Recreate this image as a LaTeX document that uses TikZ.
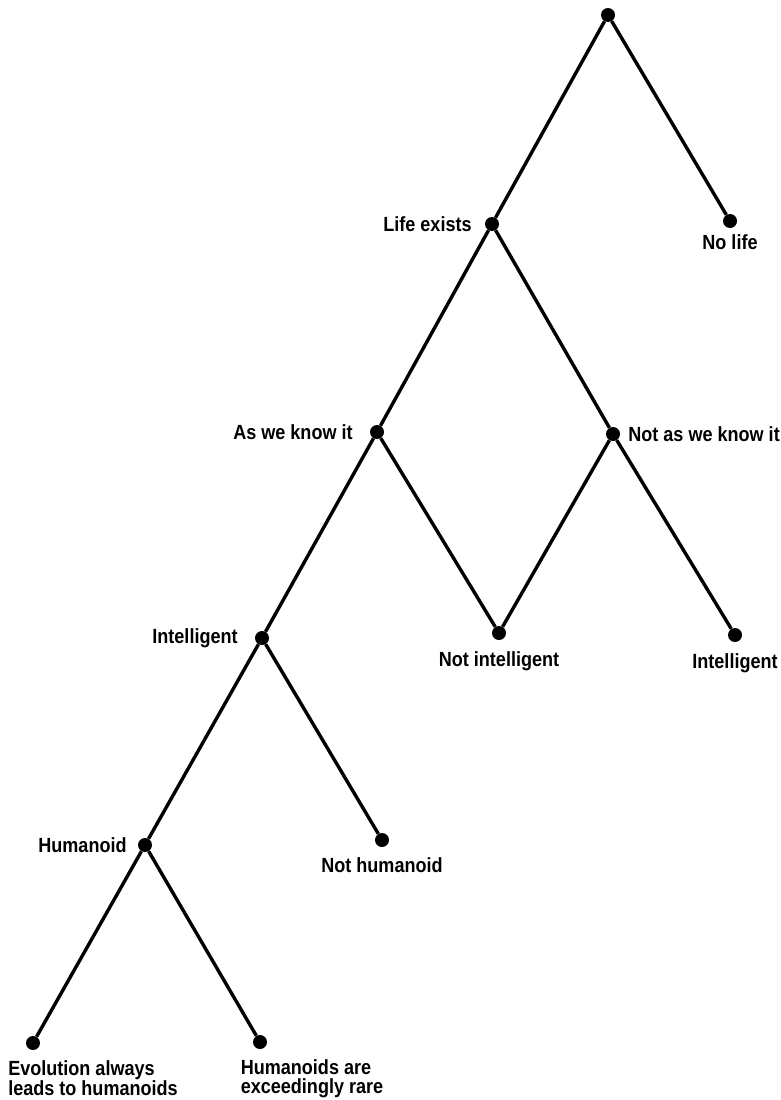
\documentclass[tikz,border=0pt]{standalone}
\usepackage{fontspec}
\setmainfont{Liberation Sans}
\newfontfamily\treefont[FakeStretch=0.88]{Liberation Sans}
\usepackage{tikz}
\usetikzlibrary{positioning}

\begin{document}
\begin{tikzpicture}[x=1pt, y=-1pt,
  dot/.style={circle, fill, inner sep=0pt, minimum size=14pt},
  branch/.style={line width=3.4pt},
  lbl/.style={font=\treefont\bfseries\fontsize{20.5}{19}\selectfont, inner sep=0pt, align=left}
]
\useasboundingbox (0,0) rectangle (781,1100);

\node[dot] (root) at (608,15) {};
\node[dot] (life) at (492,224) {};
\node[dot] (nolife) at (730,221) {};
\node[dot] (asknow) at (377,432) {};
\node[dot] (notasknow) at (613,434) {};
\node[dot] (intel) at (262,638) {};
\node[dot] (notintel) at (499,633) {};
\node[dot] (intelr) at (735,635) {};
\node[dot] (human) at (145,845) {};
\node[dot] (nothuman) at (382,840) {};
\node[dot] (evol) at (33,1043) {};
\node[dot] (rare) at (260,1042) {};

\draw[branch] (root) -- (life);
\draw[branch] (root) -- (nolife);
\draw[branch] (life) -- (asknow);
\draw[branch] (life) -- (notasknow);
\draw[branch] (asknow) -- (intel);
\draw[branch] (asknow) -- (notintel);
\draw[branch] (notasknow) -- (notintel);
\draw[branch] (notasknow) -- (intelr);
\draw[branch] (intel) -- (human);
\draw[branch] (intel) -- (nothuman);
\draw[branch] (human) -- (evol);
\draw[branch] (human) -- (rare);

\node[lbl, left=13pt of life] (tlife) {Life exists};
\node[lbl, below=6pt of nolife] (tnolife) {No life};
\node[lbl, left=17pt of asknow] (tasknow) {As we know it};
\node[lbl, right=8pt of notasknow] (tnotasknow) {Not as we know it};
\node[lbl, left=17pt of intel] (tintel) {Intelligent};
\node[lbl, below=11pt of notintel] (tnotintel) {Not intelligent};
\node[lbl, below=11pt of intelr] (tintelr) {Intelligent};
\node[lbl, left=11pt of human] (thuman) {Humanoid};
\node[lbl, below=10pt of nothuman] (tnothuman) {Not humanoid};
\node[lbl, below=10pt of evol, xshift=60pt] (tevol) {Evolution always\\leads to humanoids};
\node[lbl, below=10pt of rare, xshift=52pt] (trare) {Humanoids are\\exceedingly rare};
\end{tikzpicture}
\end{document}
